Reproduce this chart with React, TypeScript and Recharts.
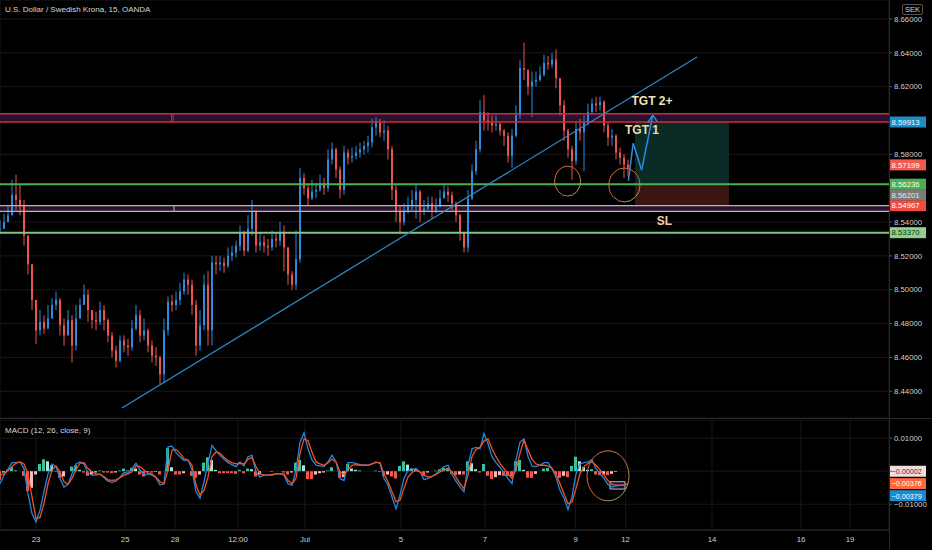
import React from 'react';
import {
  ComposedChart,
  Bar,
  Line,
  XAxis,
  YAxis,
  CartesianGrid,
  ReferenceLine,
  ReferenceArea,
  ReferenceDot,
  Cell,
} from 'recharts';

const UP = '#2b8ddc';
const DOWN = '#ef5350';
const FONT = '"Liberation Sans", Arial, sans-serif';
const X_MAX = 222.25;

// 15m candles
const closes = [
  8.536, 8.540, 8.544, 8.556, 8.553, 8.550, 8.532, 8.515, 8.494, 8.476,
  8.481, 8.477, 8.483, 8.491, 8.494, 8.479, 8.473, 8.482, 8.467, 8.483,
  8.491, 8.497, 8.488, 8.482, 8.481, 8.488, 8.482, 8.473, 8.464, 8.458,
  8.470, 8.467, 8.466, 8.477, 8.485, 8.473, 8.476, 8.467, 8.461, 8.460,
  8.450, 8.476, 8.493, 8.491, 8.494, 8.499, 8.506, 8.503, 8.491, 8.467,
  8.479, 8.503, 8.476, 8.516, 8.515, 8.516, 8.514, 8.520, 8.522, 8.526,
  8.534, 8.523, 8.536, 8.546, 8.526, 8.528, 8.526, 8.525, 8.530, 8.529,
  8.534, 8.525, 8.509, 8.503, 8.518, 8.566, 8.560, 8.554, 8.558, 8.559,
  8.563, 8.560, 8.577, 8.583, 8.571, 8.559, 8.581, 8.578, 8.579, 8.581,
  8.583, 8.585, 8.587, 8.596, 8.599, 8.593, 8.594, 8.583, 8.559, 8.546,
  8.540, 8.546, 8.550, 8.553, 8.558, 8.546, 8.548, 8.551, 8.547, 8.549,
  8.554, 8.558, 8.556, 8.551, 8.544, 8.534, 8.525, 8.554, 8.570, 8.583,
  8.605, 8.600, 8.599, 8.597, 8.598, 8.594, 8.591, 8.579, 8.591, 8.603,
  8.631, 8.630, 8.620, 8.623, 8.624, 8.627, 8.634, 8.633, 8.636, 8.625,
  8.609, 8.594, 8.583, 8.576, 8.595, 8.593, 8.599, 8.605, 8.610, 8.609,
  8.611, 8.597, 8.590, 8.591, 8.581, 8.578, 8.574, 8.572,
];
const highs = [
  8.541, 8.545, 8.550, 8.565, 8.568, 8.562, 8.553, 8.532, 8.515, 8.494,
  8.488, 8.485, 8.491, 8.495, 8.499, 8.495, 8.483, 8.488, 8.485, 8.491,
  8.495, 8.503, 8.500, 8.488, 8.487, 8.493, 8.491, 8.483, 8.475, 8.467,
  8.473, 8.473, 8.471, 8.482, 8.491, 8.488, 8.483, 8.477, 8.470, 8.466,
  8.461, 8.483, 8.496, 8.497, 8.499, 8.504, 8.510, 8.509, 8.506, 8.494,
  8.488, 8.509, 8.511, 8.520, 8.520, 8.520, 8.519, 8.525, 8.526, 8.529,
  8.538, 8.535, 8.544, 8.553, 8.547, 8.534, 8.532, 8.530, 8.535, 8.534,
  8.540, 8.538, 8.520, 8.511, 8.535, 8.572, 8.569, 8.562, 8.565, 8.563,
  8.568, 8.566, 8.583, 8.587, 8.584, 8.573, 8.585, 8.583, 8.584, 8.585,
  8.587, 8.588, 8.591, 8.601, 8.602, 8.601, 8.600, 8.597, 8.585, 8.562,
  8.550, 8.551, 8.555, 8.559, 8.562, 8.559, 8.553, 8.555, 8.555, 8.554,
  8.559, 8.562, 8.561, 8.558, 8.552, 8.545, 8.534, 8.559, 8.574, 8.588,
  8.612, 8.615, 8.605, 8.603, 8.603, 8.599, 8.595, 8.593, 8.595, 8.609,
  8.636, 8.646, 8.630, 8.629, 8.629, 8.632, 8.639, 8.638, 8.640, 8.642,
  8.624, 8.612, 8.595, 8.585, 8.599, 8.601, 8.603, 8.610, 8.613, 8.614,
  8.614, 8.612, 8.599, 8.595, 8.592, 8.584, 8.580, 8.577,
];
const lows = [
  8.534, 8.536, 8.540, 8.544, 8.547, 8.544, 8.526, 8.509, 8.488, 8.468,
  8.473, 8.474, 8.477, 8.485, 8.488, 8.473, 8.467, 8.473, 8.457, 8.464,
  8.483, 8.491, 8.481, 8.477, 8.476, 8.479, 8.476, 8.469, 8.460, 8.454,
  8.457, 8.463, 8.461, 8.464, 8.476, 8.469, 8.470, 8.463, 8.457, 8.455,
  8.444, 8.445, 8.473, 8.487, 8.488, 8.491, 8.497, 8.497, 8.485, 8.461,
  8.464, 8.476, 8.467, 8.467, 8.509, 8.511, 8.510, 8.513, 8.517, 8.519,
  8.523, 8.520, 8.522, 8.532, 8.522, 8.523, 8.522, 8.520, 8.523, 8.525,
  8.526, 8.511, 8.503, 8.500, 8.500, 8.516, 8.556, 8.550, 8.553, 8.554,
  8.558, 8.556, 8.558, 8.574, 8.566, 8.554, 8.556, 8.574, 8.575, 8.577,
  8.578, 8.580, 8.581, 8.584, 8.591, 8.590, 8.588, 8.577, 8.553, 8.540,
  8.534, 8.538, 8.545, 8.547, 8.542, 8.540, 8.544, 8.546, 8.542, 8.545,
  8.549, 8.554, 8.552, 8.547, 8.540, 8.529, 8.522, 8.522, 8.553, 8.568,
  8.581, 8.594, 8.594, 8.593, 8.594, 8.591, 8.585, 8.575, 8.572, 8.590,
  8.601, 8.624, 8.615, 8.602, 8.620, 8.623, 8.626, 8.630, 8.631, 8.619,
  8.603, 8.588, 8.578, 8.565, 8.574, 8.588, 8.570, 8.597, 8.604, 8.605,
  8.606, 8.593, 8.585, 8.585, 8.577, 8.574, 8.566, 8.567,
];

// MACD (12, 26, close, 9)
const macdLine = [
  -0.0038, -0.0012, 0.0006, 0.0026, 0.0026, 0.0028, 0.0008, -0.0068, -0.0128, -0.0154,
  -0.0118, -0.0062, -0.0008, 0.0022, 0.0014, -0.0022, -0.0048, -0.004, -0.0008, 0.0022,
  0.0028, 0.0022, -0.0006, -0.0012, -0.0012, -0.0008, -0.002, -0.003, -0.0034, -0.003,
  -0.0018, -0.0004, -0.0006, 0.0008, 0.0024, 0.0004, -0.0012, -0.0008, -0.0012, -0.002,
  -0.0042, -0.0038, 0.0074, 0.0076, 0.0056, 0.0044, 0.0032, 0.0034, 0.0004, -0.0062,
  -0.0082, -0.0032, 0.0024, 0.0078, 0.0062, 0.0048, 0.0036, 0.0026, 0.002, 0.0014,
  0.0028, 0.0016, 0.0044, 0.0048, -0.0002, -0.0018, -0.0012, -0.0012, -0.0012, -0.0008,
  -0.0008, -0.0012, -0.0038, -0.0042, 0.0004, 0.0088, 0.0116, 0.0068, 0.0034, 0.0018,
  0.0016, 0.0014, 0.0028, 0.0048, 0.0028, -0.0022, -0.0028, 0.0026, 0.0026, 0.0024,
  0.002, 0.0018, 0.0018, 0.0022, 0.0028, 0.0024, -0.0022, -0.0042, -0.0078, -0.0114,
  -0.0072, -0.0022, 0.0002, 0.0004, 0.0008, -0.0002, -0.0026, -0.0022, -0.0016, -0.0008,
  0.0004, 0.0014, 0.0018, -0.001, -0.003, -0.0048, -0.0062, 0.0018, 0.0068, 0.0072,
  0.0068, 0.0114, 0.0084, 0.0044, 0.0026, 0.0012, -0.0006, -0.0022, -0.0038, 0.0034,
  0.0088, 0.0098, 0.0044, 0.0016, 0.0014, 0.0018, 0.0026, 0.0026, 0.0008, -0.0018,
  -0.0058, -0.0082, -0.0116, -0.0078, -0.0008, 0.0022, 0.0026, 0.0028, 0.0034, 0.0008,
  -0.0008, -0.0022, -0.004, -0.0048, -0.0044, -0.0042, -0.0042, -0.0038,
];
const signalLine = [
  -0.0012, -0.0008, 0.0002, 0.0014, 0.0024, 0.0028, 0.0022, -0.0008, -0.0078, -0.0144,
  -0.014, -0.0098, -0.0038, 0.0004, 0.0016, -0.0002, -0.0032, -0.004, -0.0022, 0.0004,
  0.0024, 0.0026, 0.0008, -0.0002, -0.0008, -0.001, -0.0016, -0.0026, -0.0028, -0.0026,
  -0.002, -0.0012, -0.0008, -0.0002, 0.0016, 0.0014, 0.0004, -0.0006, -0.0008, -0.0018,
  -0.0032, -0.0038, 0.0004, 0.0064, 0.0066, 0.0054, 0.0038, 0.0034, 0.0018, -0.0042,
  -0.0072, -0.0058, -0.0018, 0.0044, 0.0058, 0.0054, 0.0042, 0.0032, 0.0026, 0.0022,
  0.0024, 0.0022, 0.0036, 0.0042, 0.0014, -0.0008, -0.0012, -0.0012, -0.001, -0.0008,
  -0.0008, -0.0008, -0.0028, -0.0038, -0.0022, 0.0054, 0.0098, 0.0092, 0.0058, 0.0028,
  0.0022, 0.0018, 0.0026, 0.0036, 0.0028, -0.0002, -0.001, 0.0004, 0.0018, 0.002,
  0.0018, 0.0018, 0.0018, 0.0022, 0.0026, 0.0026, -0.0008, -0.0032, -0.0062, -0.0092,
  -0.0088, -0.0052, -0.0018, -0.0004, 0.0002, -0.0002, -0.0012, -0.0018, -0.0016, -0.001,
  -0.0002, 0.0004, 0.0008, -0.0002, -0.0018, -0.0038, -0.0052, -0.0012, 0.0044, 0.0066,
  0.0072, 0.0092, 0.0098, 0.0068, 0.0044, 0.0024, 0.0008, -0.0008, -0.0022, 0.0004,
  0.0054, 0.0094, 0.0064, 0.0036, 0.0022, 0.0018, 0.0018, 0.0016, 0.0008, -0.0008,
  -0.0038, -0.0068, -0.0098, -0.0094, -0.0052, -0.0008, 0.0014, 0.0024, 0.0028, 0.0018,
  0.0004, -0.0012, -0.0028, -0.004, -0.0042, -0.0042, -0.0042, -0.0038,
];

const xTicks = [9, 31.3, 43.75, 59.5, 76.25, 100.2, 121.25, 143.9, 156.4, 178, 200.25, 212.5];
const xLabels = ['23', '25', '28', '12:00', 'Jul', '5', '7', '9', '12', '14', '16', '19'];
const priceTicks = [8.44, 8.46, 8.48, 8.5, 8.52, 8.54, 8.58, 8.62, 8.64, 8.66];
const macdTicks = [-0.01, 0, 0.01];

// drawn levels
const tgtBand = [8.5991, 8.604];
const entryLevel = 8.56236;
const slBand = [8.5463, 8.54967];
const supportLevel = 8.5337;

const candles = closes.map((c, i) => {
  const o = i === 0 ? c : closes[i - 1];
  const h = Math.max(highs[i], o, c);
  const l = Math.min(lows[i], o, c);
  return { i, open: o, close: c, high: h, low: l, range: [l, h] };
});

const macdData = macdLine.map((m, i) => ({
  i,
  macd: m,
  signal: signalLine[i],
  hist: +(m - signalLine[i]).toFixed(5),
}));

const histColor = (i: number) => {
  const h = macdData[i].hist;
  const prev = i > 0 ? macdData[i - 1].hist : h;
  if (h >= 0) return h >= prev ? '#3fbf9f' : '#a8e6d6';
  return h <= prev ? '#f4574f' : '#f8bcbc';
};

function Candle(props: any) {
  const { x, y, width, height, payload } = props;
  if (!payload) return null;
  const top = height >= 0 ? y : y + height;
  const hh = Math.abs(height);
  const span = payload.high - payload.low;
  const k = span > 0 ? hh / span : 0;
  const yo = top + (payload.high - payload.open) * k;
  const yc = top + (payload.high - payload.close) * k;
  const col = payload.close >= payload.open ? UP : DOWN;
  const cx = x + width / 2;
  return (
    <g>
      <line x1={cx} x2={cx} y1={top} y2={top + hh} stroke={col} strokeWidth={1} />
      <rect x={x} y={Math.min(yo, yc)} width={width} height={Math.max(Math.abs(yo - yc), 1)} fill={col} />
    </g>
  );
}

function Tag({ viewBox, text, bg, fg, dy = 0, size = 7.8 }: any) {
  if (!viewBox) return null;
  const x = viewBox.x + viewBox.width;
  const y = viewBox.y + dy;
  return (
    <g>
      <rect x={x} y={y - 5.5} width={37} height={11} fill={bg} />
      <text x={x + 2.5} y={y + 2.8} fontSize={size} fontFamily={FONT} fill={fg}>
        {text}
      </text>
    </g>
  );
}

const ring = (id: string, rx: number, ry: number) => (p: any) => (
  <g>
    <defs>
      <linearGradient id={id} x1="0" y1="0" x2="1" y2="1">
        <stop offset="0%" stopColor="#e0703a" />
        <stop offset="60%" stopColor="#c8683c" />
        <stop offset="100%" stopColor="#8cc46a" />
      </linearGradient>
    </defs>
    <ellipse cx={p.cx} cy={p.cy} rx={rx} ry={ry} fill="none" stroke={`url(#${id})`} strokeWidth={1} />
  </g>
);

const note = (text: string, color: string) => (p: any) => (
  <text x={p.cx} y={p.cy} textAnchor="middle" dominantBaseline="central" fontSize={12} fontWeight="bold" fontFamily={FONT} fill={color}>
    {text}
  </text>
);

const axisTick = { fill: '#cfcfcf', fontSize: 7.8, fontFamily: FONT };
const ARROW = '#2a8fe0';

export default function App() {
  return (
    <div style={{ position: 'absolute', left: 0, top: 0, width: 932, height: 550, background: '#000', overflow: 'hidden' }}>
      <div style={{ position: 'absolute', left: 0, top: 0 }}>
        <ComposedChart width={932} height={418} data={candles} margin={{ top: 0, right: 0, bottom: 0, left: 0 }}>
          <CartesianGrid stroke="#181818" />
          <XAxis dataKey="i" type="number" domain={[0, X_MAX]} allowDataOverflow ticks={xTicks} height={0} tick={false} tickLine={false} axisLine={false} />
          <YAxis
            orientation="right"
            width={43}
            domain={[8.4242, 8.6712]}
            allowDataOverflow
            ticks={priceTicks}
            interval={0}
            tickFormatter={(v: number) => v.toFixed(5)}
            tick={axisTick}
            tickSize={3}
            tickLine={{ stroke: '#666' }}
            axisLine={false}
          />
          <ReferenceArea y1={tgtBand[0]} y2={tgtBand[1]} fill="#2b0f2e" fillOpacity={1} />
          <ReferenceArea y1={slBand[0]} y2={slBand[1]} fill="#2a1330" fillOpacity={1} />
          <ReferenceArea x1={158.75} x2={182.25} y1={entryLevel} y2={tgtBand[0]} fill="#0b2b27" fillOpacity={1} />
          <ReferenceArea x1={158.75} x2={182.25} y1={8.5497} y2={entryLevel} fill="#3a1512" fillOpacity={1} />
          <Bar dataKey="range" barSize={2} shape={Candle} isAnimationActive={false} />
          <ReferenceLine y={tgtBand[1]} stroke="#c8303c" strokeWidth={1.5} />
          <ReferenceLine y={tgtBand[0]} stroke="#c8303c" strokeWidth={1.5} label={<Tag text="8.59913" bg="#1c8cc8" fg="#f0f8ff" />} />
          <ReferenceLine segment={[{ x: 42.9, y: tgtBand[0] }, { x: 42.9, y: tgtBand[1] }]} stroke="#c8303c" />
          <ReferenceLine segment={[{ x: 43.3, y: tgtBand[0] }, { x: 43.3, y: tgtBand[1] }]} stroke="#c8303c" />
          <ReferenceLine y={entryLevel} stroke="#4caf50" strokeWidth={2} label={<Tag text="8.56236" bg="#4caf50" fg="#f4fff4" />} />
          <ReferenceLine y={slBand[1]} stroke="#b8b8a8" strokeWidth={1.3} label={<Tag text="8.54967" bg="#f24c42" fg="#fff" />} />
          <ReferenceLine y={slBand[0]} stroke="#b8b8a8" strokeWidth={1.3} />
          <ReferenceLine segment={[{ x: 43.5, y: slBand[0] }, { x: 43.5, y: slBand[1] }]} stroke="#b8b8a8" />
          <ReferenceLine y={supportLevel} stroke="#81c784" strokeWidth={2} label={<Tag text="8.53370" bg="#8fd08f" fg="#17321a" />} />
          <ReferenceLine y={8.57199} stroke="none" label={<Tag text="8.57199" bg="#f05a50" fg="#fff" dy={-3} />} />
          <ReferenceLine y={8.56201} stroke="none" label={<Tag text="8.56201" bg="#7b7b7b" fg="#e8e8e8" dy={10} />} />
          <ReferenceLine segment={[{ x: 30.5, y: 8.4301 }, { x: 174.25, y: 8.6375 }]} stroke="#2a8cd0" strokeWidth={1.2} />
          <ReferenceLine segment={[{ x: 157.1, y: 8.5644 }, { x: 158.3, y: 8.5865 }]} stroke={ARROW} strokeWidth={1.5} />
          <ReferenceLine segment={[{ x: 158.3, y: 8.5865 }, { x: 160.4, y: 8.5707 }]} stroke={ARROW} strokeWidth={1.5} />
          <ReferenceLine segment={[{ x: 160.4, y: 8.5707 }, { x: 163.2, y: 8.6032 }]} stroke={ARROW} strokeWidth={1.5} />
          <ReferenceLine segment={[{ x: 161.9, y: 8.5987 }, { x: 163.2, y: 8.6032 }]} stroke={ARROW} strokeWidth={1.5} />
          <ReferenceLine segment={[{ x: 164.3, y: 8.5993 }, { x: 163.2, y: 8.6032 }]} stroke={ARROW} strokeWidth={1.5} />
          <ReferenceDot x={141.9} y={8.5642} r={0} shape={ring('ringA', 13, 15)} />
          <ReferenceDot x={156.1} y={8.5619} r={0} shape={ring('ringB', 15.5, 17)} />
          <ReferenceDot x={163} y={8.6115} r={0} shape={note('TGT 2+', '#ece2bc')} />
          <ReferenceDot x={160.5} y={8.5944} r={0} shape={note('TGT 1', '#ead9b2')} />
          <ReferenceDot x={166.1} y={8.5406} r={0} shape={note('SL', '#f4c8ae')} />
        </ComposedChart>
      </div>
      <div style={{ position: 'absolute', left: 0, top: 418, width: 932, height: 1, background: '#2a2a2a' }} />
      <div style={{ position: 'absolute', left: 0, top: 420 }}>
        <ComposedChart width={932} height={130} data={macdData} margin={{ top: 0, right: 0, bottom: 0, left: 0 }}>
          <CartesianGrid stroke="#181818" />
          <XAxis
            dataKey="i"
            type="number"
            domain={[0, X_MAX]}
            allowDataOverflow
            ticks={xTicks}
            interval={0}
            tickFormatter={(v: number) => xLabels[xTicks.indexOf(v)] ?? ''}
            height={20}
            tick={axisTick}
            tickSize={4}
            tickLine={false}
            axisLine={{ stroke: '#2a2a2a' }}
          />
          <YAxis
            orientation="right"
            width={43}
            domain={[-0.0178, 0.0155]}
            allowDataOverflow
            ticks={macdTicks}
            interval={0}
            tickFormatter={(v: number) => (v === 0 ? '' : (v < 0 ? '\u2212' : '') + Math.abs(v).toFixed(5))}
            tick={axisTick}
            tickSize={3}
            tickLine={{ stroke: '#666' }}
            axisLine={false}
          />
          <Bar dataKey="hist" barSize={3} isAnimationActive={false}>
            {macdData.map((d, i) => (
              <Cell key={d.i} fill={histColor(i)} />
            ))}
          </Bar>
          <Line dataKey="macd" type="linear" stroke="#1e88e5" strokeWidth={1.3} dot={false} isAnimationActive={false} />
          <Line dataKey="signal" type="linear" stroke="#f4511e" strokeWidth={1.3} dot={false} isAnimationActive={false} />
          <ReferenceArea x1={152.5} x2={156.25} y1={-0.0054} y2={-0.0032} fill="#23204a" fillOpacity={0.6} stroke="#b8b8d8" strokeWidth={1} />
          <ReferenceDot x={152} y={-0.0014} r={0} shape={ring('ringC', 21, 25)} />
          <ReferenceLine y={-0.00002} stroke="none" label={<Tag text={'\u22120.00002'} bg="#f3dcda" fg="#333" size={7.2} />} />
          <ReferenceLine y={-0.00376} stroke="none" label={<Tag text={'\u22120.00376'} bg="#ff6a3c" fg="#fff" size={7.2} />} />
          <ReferenceLine y={-0.00379} stroke="none" label={<Tag text={'\u22120.00379'} bg="#1a8ad4" fg="#fff" dy={12} size={7.2} />} />
        </ComposedChart>
      </div>
      <div style={{ position: 'absolute', left: 889, top: 0, width: 1, height: 550, background: '#2a2a2a' }} />
      <div style={{ position: 'absolute', left: 5, top: 5, color: '#d6d6d6', fontSize: 8, fontFamily: FONT }}>
        U.S. Dollar / Swedish Krona, 15, OANDA
      </div>
      <div style={{ position: 'absolute', left: 5, top: 426, color: '#d6d6d6', fontSize: 8, fontFamily: FONT }}>
        MACD (12, 26, close, 9)
      </div>
      <div
        style={{
          position: 'absolute',
          left: 902,
          top: 4,
          padding: '0 2px',
          border: '1px solid #555',
          borderRadius: 2,
          background: '#000',
          color: '#d6d6d6',
          fontSize: 7.5,
          lineHeight: '9px',
          fontFamily: FONT,
        }}
      >
        SEK
      </div>
    </div>
  );
}
